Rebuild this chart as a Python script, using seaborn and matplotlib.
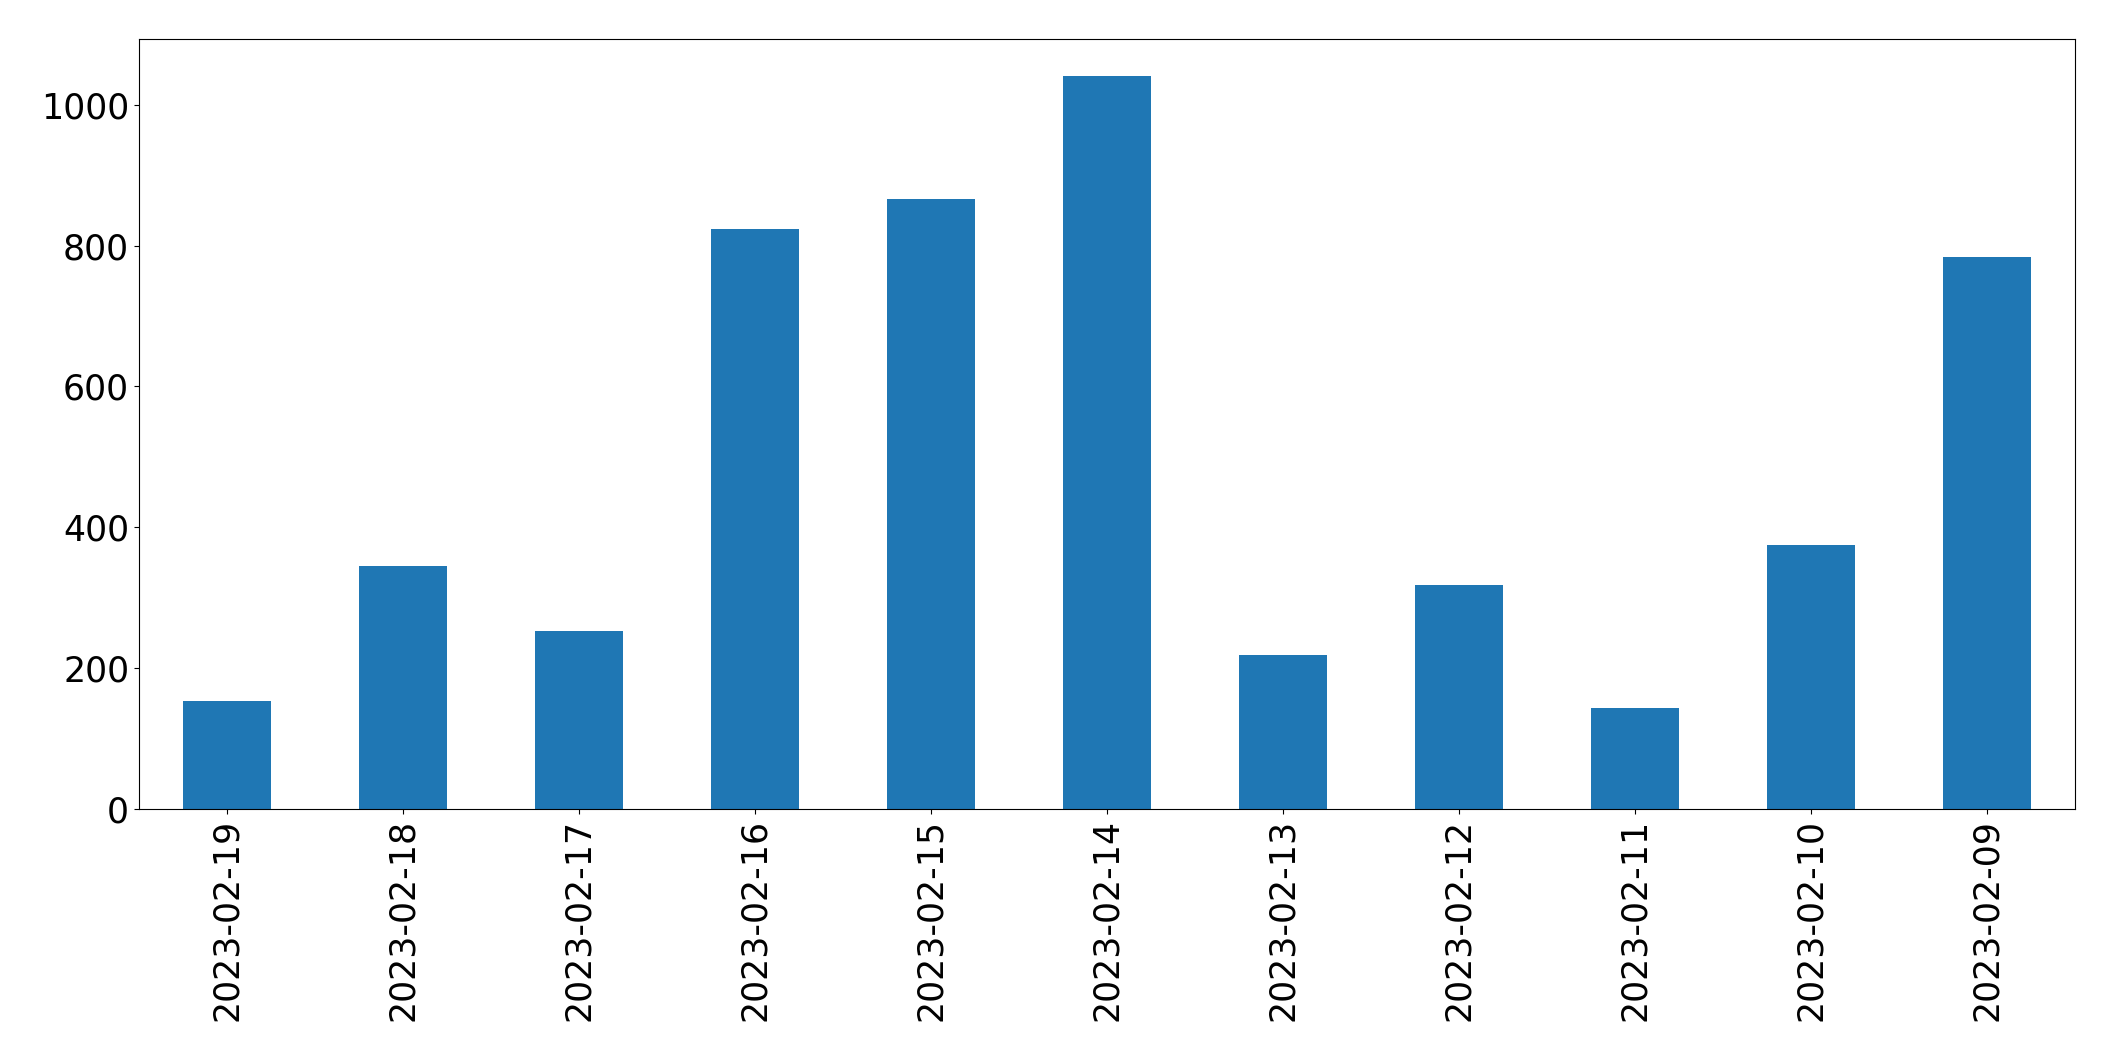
import pandas as pd
import matplotlib
matplotlib.use("Agg")
import matplotlib.pyplot as plt
import seaborn as sns

# daily counts, newest first (as in the reference)
dates = ["2023-02-19", "2023-02-18", "2023-02-17", "2023-02-16", "2023-02-15",
         "2023-02-14", "2023-02-13", "2023-02-12", "2023-02-11", "2023-02-10",
         "2023-02-09"]
counts = [154, 345, 253, 823, 866, 1041, 219, 318, 143, 375, 784]

df = pd.DataFrame({"date": dates, "count": counts})

fig = plt.figure(figsize=(21.15, 10.61), dpi=100)
ax = fig.add_axes([0.0657, 0.2375, 0.9153, 0.7255])

sns.barplot(data=df, x="date", y="count", order=dates, color="#1f77b4",
            saturation=1, width=0.5, linewidth=0, ax=ax)

ax.set_xlim(-0.5, len(dates) - 0.5)
ax.set_xlabel("")
ax.set_ylabel("")
ax.tick_params(axis="both", labelsize=25)
ax.tick_params(axis="x", labelrotation=90)

fig.savefig("out.png", dpi=100)
